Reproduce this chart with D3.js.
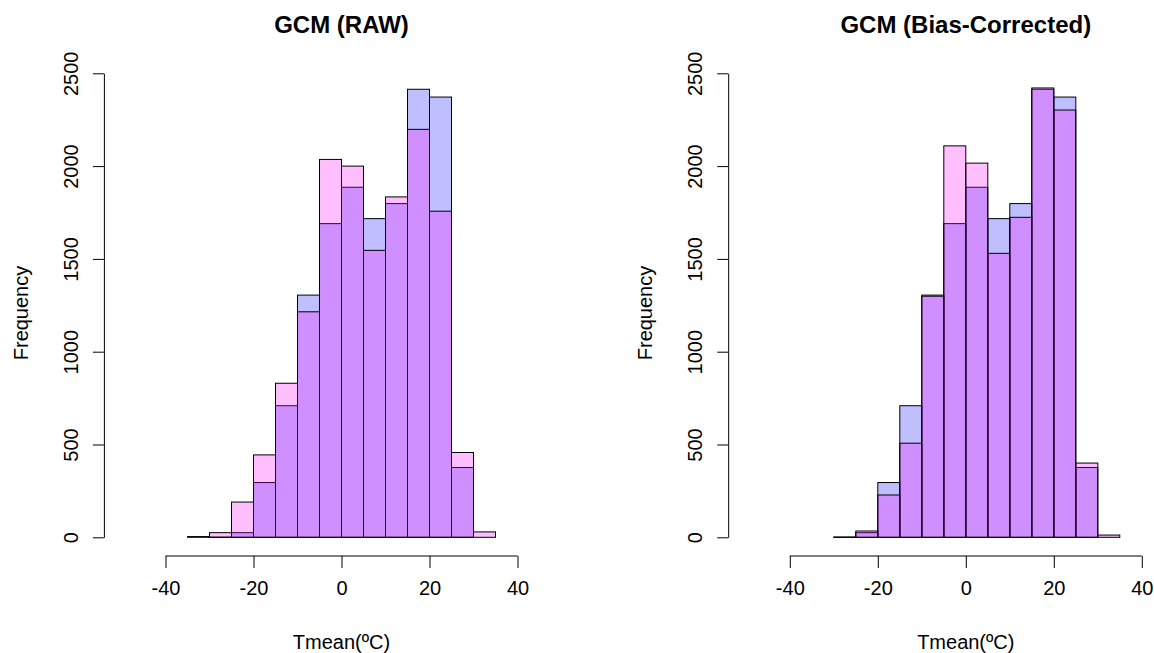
<!DOCTYPE html>
<html>
<head>
<meta charset="utf-8">
<script src="https://cdn.jsdelivr.net/npm/d3@7"></script>
<style>
  html, body { margin: 0; padding: 0; background: #fff; }
  svg text { font-family: "Liberation Sans", Arial, sans-serif; fill: #000; }
</style>
</head>
<body>
<div id="chart"></div>
<script>
// histogram bins, 5 degC wide, left edges
const binStarts = [-35, -30, -25, -20, -15, -10, -5, 0, 5, 10, 15, 20, 25, 30];
const binWidth = 5;

// observed (blue), same in both panels; null = bin not drawn
const obsCounts = [null, 1, 25, 295, 709, 1305, 1690, 1886, 1717, 1798, 2414, 2372, 376, null];
// GCM raw (pink, left panel)
const gcmRawCounts = [4, 25, 190, 444, 830, 1215, 2036, 2000, 1546, 1834, 2198, 1757, 457, 29];
// GCM bias-corrected (pink, right panel)
const gcmBcCounts = [null, 1, 34, 228, 507, 1299, 2109, 2016, 1530, 1724, 2421, 2302, 400, 12];

const panelTitles = ["GCM (RAW)", "GCM (Bias-Corrected)"];
const xTicks = [-40, -20, 0, 20, 40];
const yTicks = [0, 500, 1000, 1500, 2000, 2500];
const xLabel = "Tmean(ºC)";
const yLabel = "Frequency";

let width = 1154;
let height = 653;

let obs_color = "rgba(0,0,255,0.25)";
let gcm_color = "rgba(255,0,255,0.25)";

// plain labels: ascii minus, no thousands separator
let plain = (d) => String(d);

let svg = d3.select("#chart")
  .append("svg")
  .attr("width", width)
  .attr("height", height);

// left edge of each panel's plot region
let panel_left = [103.9, 728.2];
let plot_width = 475.2;
let plot_bottom = 537.3;
let plot_top = 73.3;
let x_axis_y = 556;

function drawPanel(left, title, obs, gcm) {
  let x = d3.scaleLinear().domain([-54, 54]).range([left, left + plot_width]);
  let y = d3.scaleLinear().domain([0, 2500]).range([plot_bottom, plot_top]);

  let g = svg.append("g");

  let bins = (counts) => binStarts
    .map((b, i) => ({ x0: b, x1: b + binWidth, n: counts[i] }))
    .filter(d => d.n !== null);

  // observed first, GCM on top
  [[obs, obs_color], [gcm, gcm_color]].forEach(([counts, color]) => {
    g.append("g")
      .selectAll("rect")
      .data(bins(counts))
      .enter()
      .append("rect")
      .attr("x", d => x(d.x0))
      .attr("y", d => y(d.n))
      .attr("width", d => x(d.x1) - x(d.x0))
      .attr("height", d => y(0) - y(d.n))
      .attr("fill", color)
      .attr("stroke", "#000")
      .attr("stroke-width", 1);
  });

  // x axis (line only between first and last tick, like base R)
  g.append("g")
    .attr("transform", `translate(0,${x_axis_y})`)
    .call(d3.axisBottom(x).tickValues(xTicks).tickFormat(plain)
      .tickSizeInner(12).tickSizeOuter(0).tickPadding(13))
    .call(a => a.select(".domain").attr("d", `M${x(xTicks[0])},0H${x(xTicks[xTicks.length - 1])}`))
    .call(a => a.selectAll("text").attr("font-size", 20).attr("dy", "0.71em"))
    .call(a => a.selectAll("line, path").attr("stroke", "#000"));

  // y axis with rotated labels
  g.append("g")
    .attr("transform", `translate(${left},0)`)
    .call(d3.axisLeft(y).tickValues(yTicks).tickFormat(plain)
      .tickSizeInner(11).tickSizeOuter(0))
    .call(a => a.selectAll("text")
      .attr("font-size", 20)
      .attr("x", null)
      .attr("dy", null)
      .attr("text-anchor", "middle")
      .attr("transform", "translate(-26,0) rotate(-90)"))
    .call(a => a.selectAll("line, path").attr("stroke", "#000"));

  let cx = x(0);

  g.append("text")
    .attr("x", cx)
    .attr("y", 33)
    .attr("text-anchor", "middle")
    .attr("font-size", 24)
    .attr("font-weight", "bold")
    .text(title);

  g.append("text")
    .attr("x", cx)
    .attr("y", 649)
    .attr("text-anchor", "middle")
    .attr("font-size", 20)
    .text(xLabel);

  g.append("text")
    .attr("transform", `translate(${left - 76},313) rotate(-90)`)
    .attr("text-anchor", "middle")
    .attr("font-size", 20)
    .text(yLabel);
}

drawPanel(panel_left[0], panelTitles[0], obsCounts, gcmRawCounts);
drawPanel(panel_left[1], panelTitles[1], obsCounts, gcmBcCounts);
</script>
</body>
</html>
